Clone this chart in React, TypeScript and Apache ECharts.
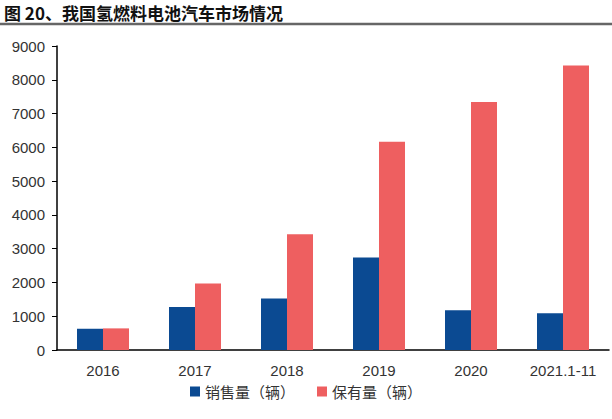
import React, { useEffect, useRef } from "react";
import * as echarts from "echarts";

const categories = ["2016", "2017", "2018", "2019", "2020", "2021.1-11"];
const salesName = "销售量（辆）";
const stockName = "保有量（辆）";
const sales = [629, 1272, 1527, 2737, 1177, 1089];
const stock = [640, 1970, 3428, 6165, 7342, 8420];
const yTicks = { min: 0, max: 9000, interval: 1000 };
const titleText = "图 20、我国氢燃料电池汽车市场情况";

export default function App() {
  const ref = useRef<HTMLDivElement>(null);
  useEffect(() => {
    if (!ref.current) return;
    const chart = echarts.init(ref.current, undefined, { renderer: "svg" });
    chart.setOption({
      animation: false,
      backgroundColor: "#ffffff",
      graphic: [
        {
          type: "text",
          x: 4,
          y: 4,
          style: {
            text: titleText,
            font: "bold 17px 'Noto Sans CJK SC'",
            fill: "#111",
            textVerticalAlign: "top",
          },
        },
        {
          type: "line",
          shape: { x1: 0, y1: 24, x2: 612, y2: 24 },
          style: { stroke: "#666", lineWidth: 2.5 },
        },
      ],
      legend: {
        bottom: 15,
        left: "center",
        itemWidth: 10,
        itemHeight: 10,
        itemGap: 22,
        icon: "rect",
        textStyle: { fontFamily: "'Noto Sans CJK SC'", fontSize: 15, color: "#333" },
        data: [salesName, stockName],
      },
      grid: { left: 57, right: 3, top: 46, bottom: 69 },
      xAxis: {
        type: "category",
        data: categories,
        axisLine: { lineStyle: { color: "#000", width: 1.5 } },
        axisTick: { show: false },
        axisLabel: {
          fontFamily: "'Liberation Sans', Arial",
          fontSize: 15,
          color: "#333",
          margin: 13,
        },
      },
      yAxis: {
        type: "value",
        min: yTicks.min,
        max: yTicks.max,
        interval: yTicks.interval,
        splitLine: { show: false },
        axisLine: { show: true, lineStyle: { color: "#000", width: 1.5 } },
        axisTick: { show: true, length: 5, lineStyle: { color: "#000" } },
        axisLabel: {
          fontFamily: "'Liberation Sans', Arial",
          fontSize: 15,
          color: "#333",
          margin: 12,
          formatter: (v: number) => String(v),
        },
      },
      series: [
        {
          name: salesName,
          type: "bar",
          data: sales,
          barWidth: 26,
          barGap: "0%",
          itemStyle: { color: "#0B4A92" },
        },
        {
          name: stockName,
          type: "bar",
          data: stock,
          barWidth: 26,
          barGap: "0%",
          itemStyle: { color: "#EE5F60" },
        },
      ],
    });
    return () => chart.dispose();
  }, []);
  return <div ref={ref} style={{ width: 612, height: 419, position: "absolute", left: 0, top: 0 }} />;
}
